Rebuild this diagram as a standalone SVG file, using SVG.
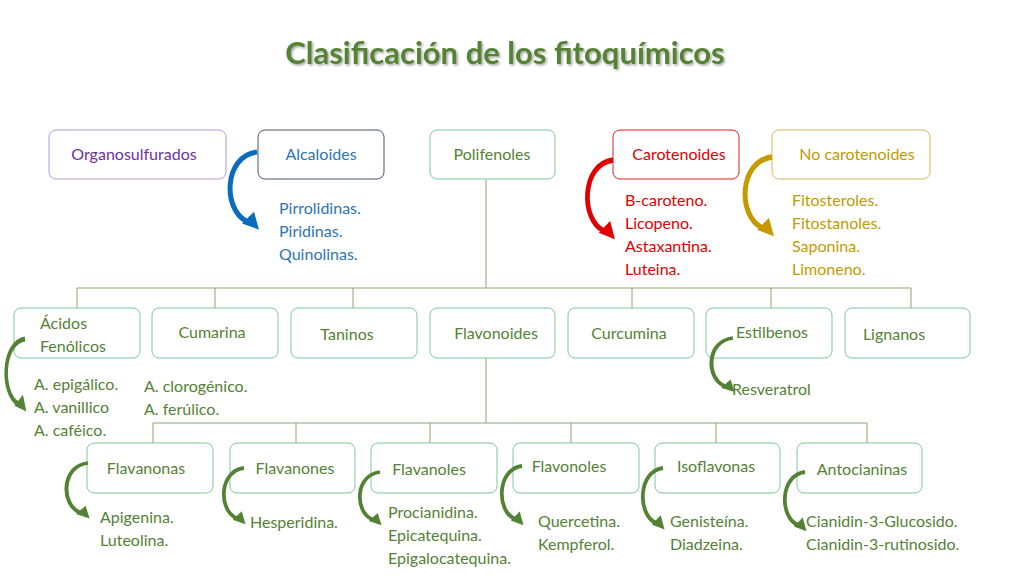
<svg xmlns="http://www.w3.org/2000/svg" width="1024" height="576" viewBox="0 0 1024 576">
<defs>
<filter id="sh" x="-5%" y="-20%" width="110%" height="140%"><feDropShadow dx="1.5" dy="1.5" stdDeviation="1" flood-color="#000" flood-opacity="0.35"/></filter>
<g id="arr"><path d="M0,0 C-34,4 -34,56 -10,66" fill="none" stroke-width="5"/><polygon points="2,74 -15,68 -3,57" stroke="none"/></g>
</defs>
<style>
text{font-family:Lato,"Open Sans",sans-serif;font-size:16px;fill:#548235}
.b{fill:#fff;stroke:#7cc99a;stroke-width:1}
.c{text-anchor:middle}
.ln{stroke:#8aa870;stroke-width:1;fill:none}
.g{fill:#548235;stroke:#548235}
</style>
<rect width="1024" height="576" fill="#fff"/>
<text x="505" y="64" class="c" style="font-size:31px;font-weight:bold;fill:#548235" filter="url(#sh)">Clasificación de los fitoquímicos</text>
<g id="connectors">
<path class="ln" d="M486,179V288M77,288H911M77,288V308M215,288V308M353,288V308M632,288V308M771,288V308M911,288V308M486,358V423M153,423H867M153,423V443M296,423V443M430,423V443M571,423V443M716,423V443M867,423V443"/>
</g>
<g id="organosulfurados"><rect x="49" y="130" width="177" height="49" rx="7" class="b" style="stroke:#b89ad8"/><text x="134" y="160" class="c" style="fill:#7030a0">Organosulfurados</text></g>
<g id="alcaloides"><rect x="258" y="130" width="126" height="49" rx="7" class="b" style="stroke:#44546a"/><text x="321" y="160" class="c" style="fill:#2e75b6">Alcaloides</text>
<use href="#arr" transform="translate(257,152) scale(1,1.05)" style="fill:#0b6bbd;stroke:#0b6bbd"/>
<text x="279" y="214" style="fill:#2e75b6">Pirrolidinas.</text><text x="279" y="237" style="fill:#2e75b6">Piridinas.</text><text x="279" y="260" style="fill:#2e75b6">Quinolinas.</text></g>
<g id="polifenoles"><rect x="430" y="130" width="125" height="49" rx="7" class="b"/><text x="492" y="160" class="c">Polifenoles</text></g>
<g id="carotenoides"><rect x="613" y="130" width="126" height="49" rx="7" class="b" style="stroke:#e02020"/><text x="679" y="160" class="c" style="fill:#e00000">Carotenoides</text>
<use href="#arr" transform="translate(613,160) scale(0.95,1.07)" style="fill:#e00000;stroke:#e00000"/>
<text x="625" y="206" style="fill:#e00000">B-caroteno.</text><text x="625" y="229" style="fill:#e00000">Licopeno.</text><text x="625" y="252" style="fill:#e00000">Astaxantina.</text><text x="625" y="275" style="fill:#e00000">Luteina.</text></g>
<g id="nocarotenoides"><rect x="772" y="130" width="158" height="49" rx="7" class="b" style="stroke:#d8b85a"/><text x="857" y="160" class="c" style="fill:#c49a00">No carotenoides</text>
<use href="#arr" transform="translate(772,157) scale(1,1.07)" style="fill:#c49a00;stroke:#c49a00"/>
<text x="792" y="206" style="fill:#c49a00">Fitosteroles.</text><text x="792" y="229" style="fill:#c49a00">Fitostanoles.</text><text x="792" y="252" style="fill:#c49a00">Saponina.</text><text x="792" y="275" style="fill:#c49a00">Limoneno.</text></g>
<g id="acidos"><rect x="14" y="308" width="126" height="50" rx="7" class="b"/><text x="40" y="329">Ácidos</text><text x="40" y="352">Fenólicos</text>
<use href="#arr" transform="translate(25,339) scale(0.7,0.98)" class="g"/>
<text x="34" y="390">A. epigálico.</text><text x="34" y="413">A. vanillico</text><text x="34" y="436">A. caféico.</text></g>
<g id="cumarina"><rect x="152" y="308" width="126" height="50" rx="7" class="b"/><text x="212" y="338" class="c">Cumarina</text>
<text x="144" y="392">A. clorogénico.</text><text x="144" y="415">A. ferúlico.</text></g>
<g id="taninos"><rect x="291" y="308" width="126" height="50" rx="7" class="b"/><text x="347" y="340" class="c">Taninos</text></g>
<g id="flavonoides"><rect x="430" y="308" width="125" height="50" rx="7" class="b"/><text x="496" y="339" class="c">Flavonoides</text></g>
<g id="curcumina"><rect x="568" y="308" width="126" height="50" rx="7" class="b"/><text x="629" y="339" class="c">Curcumina</text></g>
<g id="estilbenos"><rect x="706" y="308" width="126" height="50" rx="7" class="b"/><text x="772" y="338" class="c">Estilbenos</text>
<use href="#arr" transform="translate(733,338) scale(0.8,0.73)" class="g"/>
<text x="732" y="395">Resveratrol</text></g>
<g id="lignanos"><rect x="845" y="308" width="125" height="50" rx="7" class="b"/><text x="894" y="340" class="c">Lignanos</text></g>
<g id="flavanonas"><rect x="87" y="443" width="126" height="50" rx="7" class="b"/><text x="146" y="474" class="c">Flavanonas</text>
<use href="#arr" transform="translate(88,463) scale(0.8,0.75)" class="g"/>
<text x="100" y="523">Apigenina.</text><text x="100" y="546">Luteolina.</text></g>
<g id="flavanones"><rect x="230" y="443" width="125" height="50" rx="7" class="b"/><text x="295" y="474" class="c">Flavanones</text>
<use href="#arr" transform="translate(244,468) scale(0.75,0.76)" class="g"/>
<text x="250" y="528">Hesperidina.</text></g>
<g id="flavanoles"><rect x="371" y="443" width="126" height="50" rx="7" class="b"/><text x="429" y="475" class="c">Flavanoles</text>
<use href="#arr" transform="translate(380,472) scale(0.75,0.72)" class="g"/>
<text x="388" y="518">Procianidina.</text><text x="388" y="541">Epicatequina.</text><text x="388" y="564">Epigalocatequina.</text></g>
<g id="flavonoles"><rect x="513" y="443" width="126" height="50" rx="7" class="b"/><text x="569" y="472" class="c">Flavonoles</text>
<use href="#arr" transform="translate(522,466) scale(0.75,0.8)" class="g"/>
<text x="538" y="527">Quercetina.</text><text x="538" y="550">Kempferol.</text></g>
<g id="isoflavonas"><rect x="655" y="443" width="125" height="50" rx="7" class="b"/><text x="716" y="472" class="c">Isoflavonas</text>
<use href="#arr" transform="translate(663,468) scale(0.75,0.83)" class="g"/>
<text x="670" y="527">Genisteína.</text><text x="670" y="550">Diadzeina.</text></g>
<g id="antocianinas"><rect x="797" y="443" width="125" height="50" rx="7" class="b"/><text x="862" y="475" class="c">Antocianinas</text>
<use href="#arr" transform="translate(805,472) scale(0.75,0.8)" class="g"/>
<text x="806" y="527">Cianidin-3-Glucosido.</text><text x="806" y="550">Cianidin-3-rutinosido.</text></g>
</svg>
